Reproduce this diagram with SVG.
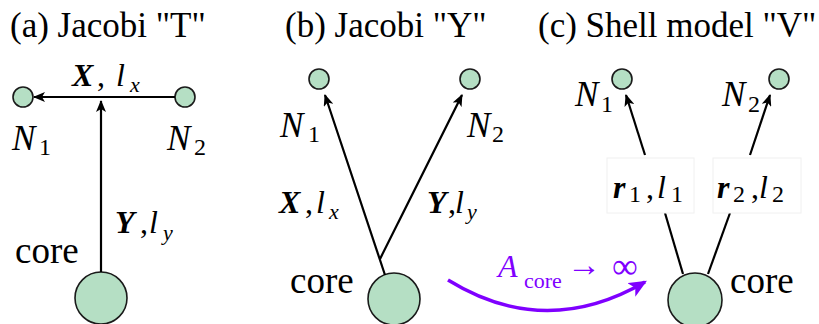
<svg xmlns="http://www.w3.org/2000/svg" width="819" height="324" viewBox="0 0 819 324">
<defs>
<marker id="ah" viewBox="0 0 12 10" refX="11" refY="5" markerWidth="12" markerHeight="10" markerUnits="userSpaceOnUse" orient="auto">
<path d="M0,0 L12,5 L0,10 L3,5 Z" fill="#000"/>
</marker>
<marker id="ahp" viewBox="0 0 16 14" refX="14" refY="7" markerWidth="18" markerHeight="16" markerUnits="userSpaceOnUse" orient="auto">
<path d="M0,0 L16,7 L0,14 L4,7 Z" fill="#7f00ff"/>
</marker>
<style>
.t{font-size:35px}
.n{font-size:35px;font-style:italic}
.s{font-size:24px}
.bi{font-size:32px;font-style:italic;font-weight:bold}
.i{font-size:32px;font-style:italic}
.si{font-size:22px;font-style:italic}
.c{font-size:32px}
.k{font-size:37px}
.p{fill:#7f00ff}
.node{fill:#b5dfc4;stroke:#1a1a1a;stroke-width:1.6}
.e{stroke:#000;stroke-width:2.2;fill:none}
.box{fill:#fff;stroke:#f0f0f0;stroke-width:1}
</style>
</defs>
<!-- titles -->
<g id="titles">
<text font-family="'Liberation Serif'" class="t" x="10" y="37">(a) Jacobi "T"</text>
<text font-family="'Liberation Serif'" class="t" x="285" y="37">(b) Jacobi "Y"</text>
<text font-family="'Liberation Serif'" class="t" x="538" y="37">(c) Shell model "V"</text>
</g>

<!-- panel (a) nodes -->
<g id="a-N1"><circle class="node" cx="23" cy="97" r="10"/><text font-family="'Liberation Serif'" class="n" x="12" y="150">N</text><text font-family="'Liberation Serif'" class="s" x="39" y="155">1</text></g>
<g id="a-N2"><circle class="node" cx="185" cy="97" r="10"/><text font-family="'Liberation Serif'" class="n" x="167" y="150">N</text><text font-family="'Liberation Serif'" class="s" x="194" y="155">2</text></g>
<g id="a-core"><circle class="node" cx="101" cy="298" r="26"/><text font-family="'Liberation Serif'" class="k" x="15" y="263">core</text></g>

<!-- panel (b) nodes -->
<g id="b-N1"><circle class="node" cx="319" cy="79" r="10"/><text font-family="'Liberation Serif'" class="n" x="280" y="137">N</text><text font-family="'Liberation Serif'" class="s" x="308" y="142">1</text></g>
<g id="b-N2"><circle class="node" cx="470" cy="79" r="10"/><text font-family="'Liberation Serif'" class="n" x="467" y="137">N</text><text font-family="'Liberation Serif'" class="s" x="492" y="142">2</text></g>
<g id="b-core"><circle class="node" cx="394" cy="299" r="26"/><text font-family="'Liberation Serif'" class="k" x="290" y="293">core</text></g>

<!-- panel (c) nodes -->
<g id="c-N1"><circle class="node" cx="622" cy="79" r="10"/><text font-family="'Liberation Serif'" class="n" x="575" y="106">N</text><text font-family="'Liberation Serif'" class="s" x="601" y="112">1</text></g>
<g id="c-N2"><circle class="node" cx="779" cy="79" r="10"/><text font-family="'Liberation Serif'" class="n" x="722" y="106">N</text><text font-family="'Liberation Serif'" class="s" x="748" y="112">2</text></g>
<g id="c-core"><circle class="node" cx="695" cy="300" r="27"/><text font-family="'Liberation Serif'" class="k" x="730" y="293">core</text></g>

<!-- connectors -->
<g id="connectors">
<line class="e" x1="175" y1="97" x2="34" y2="97" marker-end="url(#ah)"/>
<line class="e" x1="101" y1="272" x2="101" y2="101" marker-end="url(#ah)"/>
<line class="e" x1="385" y1="275" x2="325" y2="95" marker-end="url(#ah)"/>
<line class="e" x1="380" y1="259" x2="462" y2="95" marker-end="url(#ah)"/>
<line class="e" x1="645" y1="155" x2="626" y2="95" marker-end="url(#ah)"/>
<line class="e" x1="750" y1="155" x2="770" y2="95" marker-end="url(#ah)"/>
<line class="e" x1="665" y1="213" x2="683" y2="274"/>
<line class="e" x1="730" y1="213" x2="708" y2="274"/>
<path d="M448,280 Q545,340 645,282" fill="none" stroke="#7f00ff" stroke-width="3.5" marker-end="url(#ahp)"/>
</g>

<!-- connector labels -->
<g id="labels">
<text font-family="'Liberation Serif'" class="bi" x="72" y="86">X</text><text font-family="'Liberation Serif'" class="c" x="97" y="86">,</text><text font-family="'Liberation Serif'" class="i" x="116" y="86">l</text><text font-family="'Liberation Serif'" class="si" x="130" y="92">x</text>
<text font-family="'Liberation Serif'" class="bi" x="115" y="233">Y</text><text font-family="'Liberation Serif'" class="c" x="140" y="233">,</text><text font-family="'Liberation Serif'" class="i" x="149" y="233">l</text><text font-family="'Liberation Serif'" class="si" x="163" y="240">y</text>
<text font-family="'Liberation Serif'" class="bi" x="279" y="213">X</text><text font-family="'Liberation Serif'" class="c" x="305" y="213">,</text><text font-family="'Liberation Serif'" class="i" x="316" y="213">l</text><text font-family="'Liberation Serif'" class="si" x="329" y="219">x</text>
<text font-family="'Liberation Serif'" class="bi" x="427" y="213">Y</text><text font-family="'Liberation Serif'" class="c" x="448" y="213">,</text><text font-family="'Liberation Serif'" class="i" x="455" y="213">l</text><text font-family="'Liberation Serif'" class="si" x="467" y="219">y</text>
<rect class="box" x="607" y="158" width="87" height="55"/>
<rect class="box" x="713" y="158" width="88" height="55"/>
<text font-family="'Liberation Serif'" class="bi" x="613" y="198">r</text><text font-family="'Liberation Serif'" class="s" x="629" y="202">1</text><text font-family="'Liberation Serif'" class="c" x="646" y="198">,</text><text font-family="'Liberation Serif'" class="i" x="657" y="198">l</text><text font-family="'Liberation Serif'" class="s" x="671" y="202">1</text>
<text font-family="'Liberation Serif'" class="bi" x="717" y="198">r</text><text font-family="'Liberation Serif'" class="s" x="733" y="202">2</text><text font-family="'Liberation Serif'" class="c" x="751" y="198">,</text><text font-family="'Liberation Serif'" class="i" x="759" y="198">l</text><text font-family="'Liberation Serif'" class="s" x="772" y="202">2</text>
<text font-family="'Liberation Serif'" class="i p" x="498" y="277">A</text><text font-family="'Liberation Serif'" class="p" style="font-size:22px" x="524" y="288">core</text><text font-family="'Liberation Serif'" class="p" style="font-size:34px" x="567" y="276">→</text><text font-family="'Liberation Serif'" class="p" style="font-size:36px" x="612" y="278">∞</text>
</g>
</svg>
